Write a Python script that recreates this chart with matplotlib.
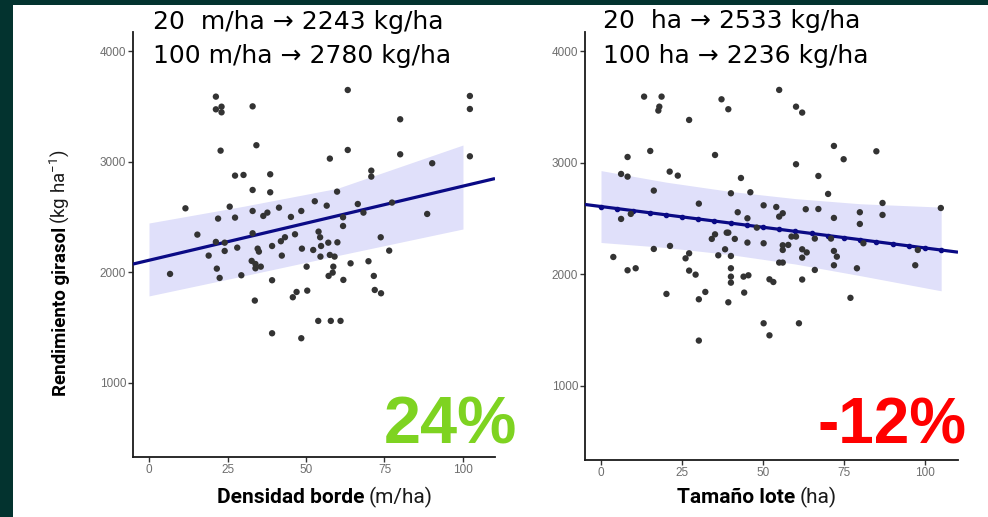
import numpy as np
import matplotlib
matplotlib.use("Agg")
import matplotlib.pyplot as plt
from matplotlib.patches import Rectangle

# ---------------- data ----------------
dens_x = [6.7, 11.6, 15.4, 19.0, 21.3, 21.3, 23.1, 23.1, 22.8, 22.0, 21.3, 21.6, 22.5, 24.1, 24.1,
          25.7, 27.4, 27.4, 30.1, 28.1, 29.4, 33.0, 33.0, 33.0, 33.0, 32.7, 33.7, 34.2, 33.9, 34.6,
          35.0, 33.9, 35.6, 38.6, 38.6, 36.4, 37.7, 39.2, 39.2, 39.2, 41.4, 42.3, 42.0, 43.3, 45.2,
          46.5, 45.8, 47.0, 48.5, 48.7, 48.5, 50.2, 50.4, 52.8, 52.3, 54.0, 54.5, 54.8, 54.6, 53.9,
          56.6, 57.1, 57.6, 57.6, 57.9, 58.7, 58.5, 57.2, 59.1, 59.9, 60.0, 61.0, 61.8, 61.8, 61.9,
          63.3, 63.3, 64.2, 66.5, 68.3, 69.9, 70.8, 70.8, 71.6, 71.9, 73.9, 73.8, 76.5, 77.4, 80.0,
          80.0, 88.6, 90.2, 102.2, 102.2, 102.2]
dens_y = [1985, 2579, 2341, 2151, 3590, 3475, 3499, 3448, 3101, 2486, 2275, 2033, 1949, 2193, 2268,
          2594, 2495, 2875, 2881, 2223, 1973, 3502, 2745, 2555, 2353, 2103, 1744, 3150, 2075, 2214,
          2187, 2036, 2051, 2887, 2724, 2510, 2540, 2238, 1928, 1448, 2585, 2151, 2281, 2317, 2501,
          2344, 1774, 1822, 2555, 2214, 1403, 2051, 1834, 2643, 2202, 2368, 2317, 2238, 2142, 1560,
          2603, 2268, 3029, 2157, 1560, 2051, 1997, 1967, 2142, 2730, 2271, 1560, 2498, 2419, 1931,
          3650, 3107, 2081, 2618, 2540, 2100, 2920, 2866, 1967, 1840, 1810, 2317, 2196, 2631, 3385,
          3068, 2528, 2987, 3596, 3478, 3050]

size_x = [3.8, 6.2, 6.2, 8.2, 8.2, 8.2, 9.2, 10.7, 13.3, 15.2, 16.3, 16.3, 17.7, 18.0, 18.7,
          20.2, 21.2, 21.3, 23.7, 26.1, 27.2, 27.2, 27.2, 29.2, 30.2, 30.2, 30.2, 32.2, 34.2, 35.2,
          35.2, 36.2, 37.2, 38.3, 39.3, 39.3, 39.3, 40.1, 40.1, 40.1, 40.1, 40.1, 41.3, 42.2, 43.2,
          44.0, 44.2, 45.2, 45.2, 45.5, 46.1, 48.1, 50.2, 50.2, 50.2, 52.0, 52.0, 53.2, 54.1, 55.0,
          55.0, 55.0, 56.1, 56.1, 56.1, 56.1, 57.8, 58.8, 60.2, 62.1, 60.2, 60.2, 62.1, 62.1, 62.1,
          61.1, 63.2, 66.0, 66.0, 67.1, 67.1, 70.1, 71.0, 71.9, 71.9, 71.9, 72.8, 71.9, 74.9, 77.0,
          79.0, 79.9, 79.9, 81.0, 85.0, 86.9, 86.9, 97.0, 97.8, 104.9, 63.5, 38.8]
size_y = [2155, 2899, 2496, 3051, 2875, 2036, 2541, 2054, 3592, 3105, 2750, 2227, 3467, 3502, 3592,
          1824, 2920, 2254, 2884, 2143, 2188, 3383, 2033, 1997, 2633, 1776, 1406, 1842, 2317, 2358,
          3069, 2170, 3568, 2224, 3479, 2373, 1749, 2726, 2164, 2054, 1979, 1925, 2317, 2556, 2863,
          1979, 1836, 2502, 2284, 1991, 2735, 2418, 2618, 2278, 1561, 1453, 1955, 1931, 2603, 3652,
          2517, 2105, 2105, 2547, 2260, 2218, 2263, 2338, 3502, 3449, 2986, 2338, 2224, 2149, 1953,
          1561, 2583, 2320, 2039, 2585, 2881, 2720, 2320, 3150, 2505, 2209, 2158, 2081, 3031, 1789,
          2054, 2556, 2451, 2278, 3102, 2639, 2532, 2081, 2218, 2594, 2196, 2373]

# fitted values given in annotations
dens_fit_x = [20, 100]
dens_fit_y = [2243, 2780]
size_fit_x = [20, 100]
size_fit_y = [2533, 2236]

# confidence ribbons
dens_band_x = [0, 30, 60, 100]
dens_band_lo = [1786, 1967, 2151, 2392]
dens_band_hi = [2446, 2597, 2760, 3152]
size_band_x = [0, 20, 40, 60, 80, 105]
size_band_lo = [2285, 2240, 2176, 2092, 1988, 1852]
size_band_hi = [2929, 2826, 2742, 2678, 2632, 2602]

x_ticks = [0, 25, 50, 75, 100]
y_ticks = [1000, 2000, 3000, 4000]

# ---------------- figure ----------------
W, H = 988, 517
fig = plt.figure(figsize=(W / 100, H / 100), dpi=100, facecolor="#03332f")
fig.patches.append(Rectangle((13 / W, 0), 1 - 13 / W, 1 - 5 / H, transform=fig.transFigure,
                             facecolor="white", edgecolor="none", zorder=-10))

def px(x, y):
    return x / W, 1 - y / H

def make_axes(rect, xlim, ylim):
    ax = fig.add_axes(rect)
    ax.set_facecolor("none")
    ax.set_xlim(*xlim)
    ax.set_ylim(*ylim)
    for s in ("top", "right"):
        ax.spines[s].set_visible(False)
    for s in ("left", "bottom"):
        ax.spines[s].set_linewidth(1.3)
        ax.spines[s].set_color("#1a1a1a")
    ax.set_xticks(x_ticks)
    ax.set_yticks(y_ticks)
    ax.tick_params(length=3.5, width=1.0, color="#333333", labelcolor="#6e6e6e",
                   labelsize=8.5, pad=1.5)
    for lab in ax.get_xticklabels() + ax.get_yticklabels():
        lab.set_family("Liberation Sans")
    return ax

def draw_panel(ax, xs, ys, fit_x, fit_y, band_x, band_lo, band_hi, dotted):
    ax.fill_between(band_x, band_lo, band_hi, color="#e0e0fa", lw=0, zorder=1)
    coef = np.polyfit(fit_x, fit_y, 1)
    x0, x1 = ax.get_xlim()
    lx = np.array([x0, x1])
    ax.plot(lx, np.polyval(coef, lx), color="#0a0a85", lw=2.3, zorder=3,
            solid_capstyle="butt")
    if dotted:
        mx = np.arange(0, 106, 5)
        ax.plot(mx, np.polyval(coef, mx), ls="none", marker="o", ms=3.0,
                color="#0a0a85", zorder=3)
    ax.scatter(xs, ys, s=21, color="#333333", edgecolors="none", zorder=4)

axL = make_axes([133 / W, 1 - 457 / H, (495 - 133) / W, (457 - 32) / H], (-5.1, 110.2), (328, 4175))
draw_panel(axL, dens_x, dens_y, dens_fit_x, dens_fit_y, dens_band_x, dens_band_lo, dens_band_hi, False)

axR = make_axes([585 / W, 1 - 460 / H, (958 - 585) / W, (460 - 32) / H], (-4.94, 110.2), (336, 4171))
draw_panel(axR, size_x, size_y, size_fit_x, size_fit_y, size_band_x, size_band_lo, size_band_hi, True)

fig.canvas.draw()
renderer = fig.canvas.get_renderer()

def two_part(x, y, bold, light, size, rotation=0):
    t1 = fig.text(*px(x, y), bold, fontsize=size, fontweight="bold", family="Roboto",
                  color="black", rotation=rotation, va="baseline", ha="left",
                  rotation_mode="anchor")
    bb = t1.get_window_extent(renderer)
    if rotation == 0:
        nx, ny = (bb.x1 + 4) / W, 1 - y / H
    else:
        nx, ny = x / W, (bb.y1 + 4) / H
    t2 = fig.text(nx, ny, light, fontsize=size, fontweight="normal", family="Roboto",
                  color="#1a1a1a", rotation=rotation, va="baseline", ha="left",
                  rotation_mode="anchor")
    return t2

two_part(217, 503, "Densidad borde", "(m/ha)", 15)
two_part(677, 503, "Tamaño lote", "(ha)", 15)

# y label
t1 = fig.text(*px(66, 396), "Rendimiento girasol", fontsize=13.5, fontweight="bold",
              family="Roboto", rotation=90, va="baseline", ha="left", rotation_mode="anchor")
bb = t1.get_window_extent(renderer)
fig.text(66 / W, (bb.y1 + 3) / H, "(kg ha$^{\\mathregular{-1}}$)", fontsize=13.5,
         family="Roboto", fontweight="normal", rotation=90, va="baseline", ha="left",
         rotation_mode="anchor", color="#1a1a1a")

# annotations on top
ann_font = dict(fontsize=18, family=["DejaVu Sans"], fontweight="normal", color="black",
                va="baseline", ha="left")
fig.text(*px(153, 29), "20  m/ha \u2192 2243 kg/ha", **ann_font)
fig.text(*px(153, 63), "100 m/ha \u2192 2780 kg/ha", **ann_font)
fig.text(*px(603, 28), "20  ha \u2192 2533 kg/ha", **ann_font)
fig.text(*px(603, 63), "100 ha \u2192 2236 kg/ha", **ann_font)

# big percentages
fig.text(*px(517, 444), "24%", fontsize=48, fontweight="bold", family="Liberation Sans",
         color="#7ed321", ha="right", va="baseline")
fig.text(*px(966, 443), "-12%", fontsize=46, fontweight="bold", family="Liberation Sans",
         color="#ff0000", ha="right", va="baseline")

fig.savefig("out.png", dpi=100, facecolor=fig.get_facecolor())
